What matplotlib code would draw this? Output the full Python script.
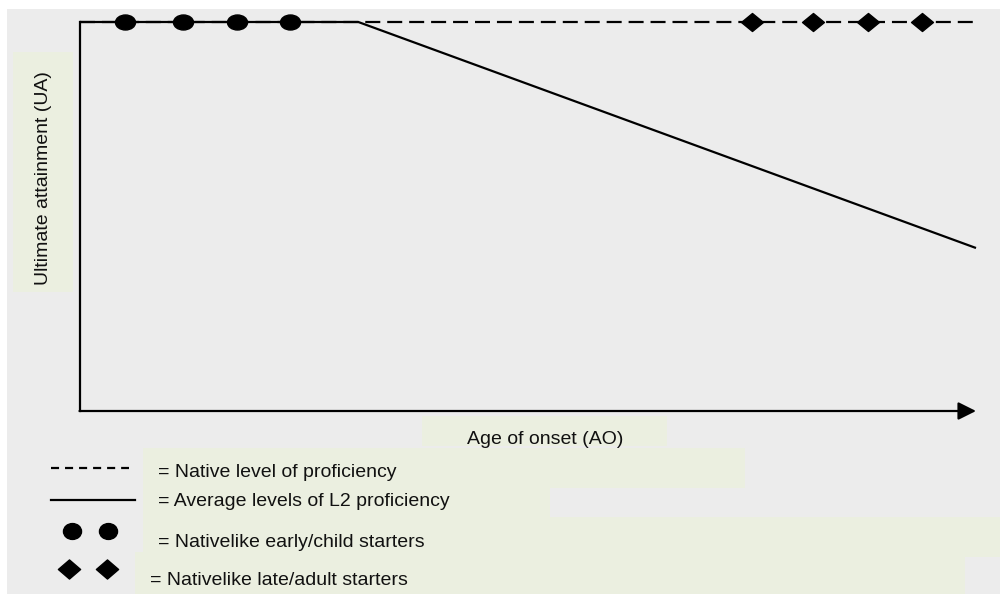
import matplotlib
matplotlib.use("Agg")
import matplotlib.pyplot as plt
from matplotlib import font_manager
from matplotlib.patches import Rectangle
from matplotlib.path import Path
from matplotlib.transforms import Affine2D
from matplotlib.lines import Line2D

# ---------------- data ----------------
native_x = [0, 100]
native_y = [100, 100]
avg_x = [0, 31.1, 100]
avg_y = [100, 100, 41.9]
early_x = [5.1, 11.5, 17.6, 23.5]
early_y = [100, 100, 100, 100]
late_x = [75.0, 81.8, 88.0, 94.0]
late_y = [100, 100, 100, 100]

xlabel = "Age of onset (AO)"
ylabel = "Ultimate attainment (UA)"
legend_labels = ["= Native level of proficiency",
                 "= Average levels of L2 proficiency",
                 "= Nativelike early/child starters",
                 "= Nativelike late/adult starters"]

# ---------------- style ----------------
plt.rcParams['lines.scale_dashes'] = False
names = {f.name for f in font_manager.fontManager.ttflist}
if 'Liberation Sans Narrow' in names:
    FAM, FS = ['Liberation Sans Narrow', 'DejaVu Sans'], 17
else:
    FAM, FS = ['Liberation Sans', 'DejaVu Sans'], 14

BG = '#ececec'
BOX = '#ebefe0'

W, H = 1000, 594
fig = plt.figure(figsize=(W / 100, H / 100), dpi=100, facecolor='white')

# overlay axes in pixel coordinates (layout only)
ov = fig.add_axes([0, 0, 1, 1], zorder=0)
ov.set_xlim(0, W)
ov.set_ylim(H, 0)
ov.axis('off')
ov.add_patch(Rectangle((7, 9), W - 7, H - 9, facecolor=BG, edgecolor='none'))

def box(x0, y0, x1, y1, color=BOX, visible=True):
    r = Rectangle((x0, y0), x1 - x0, y1 - y0, facecolor=color, edgecolor='none')
    if visible:
        ov.add_patch(r)
    else:
        r.set_transform(ov.transData)
    return r

box(13, 52, 73, 292)
box(422, 416, 667, 446)
box(143, 448, 745, 488)
box(143, 488, 550, 517)
box(143, 517, 1000, 557)
box(135, 552, 965, 594)

# axis labels
ov.text(44, 178, ylabel, rotation=90, ha='center', va='center',
        family=FAM, fontsize=FS, color='#111111')
t = ov.text(545, 444, xlabel, ha='center', va='baseline',
            family=FAM, fontsize=FS, color='#111111')
t.set_clip_path(box(400, 410, 700, 446, visible=False))

# legend texts
ys = [477, 506, 547, 585]
xs = [158, 158, 158, 150]
clips = [(440, 488), (486, 510), None, None]
for lab, x, y, c in zip(legend_labels, xs, ys, clips):
    tt = ov.text(x, y, lab, ha='left', va='baseline', family=FAM,
                 fontsize=FS, color='#111111')
    if c is not None:
        tt.set_clip_path(box(100, c[0], 1000, c[1], visible=False))

# markers
ell = Path.unit_circle().transformed(Affine2D().scale(1, 0.75))
ell_leg = Path.unit_circle().transformed(Affine2D().scale(1, 0.88))
dia = Path([(0, 1), (1, 0), (0, -1), (-1, 0), (0, 1)],
           [Path.MOVETO, Path.LINETO, Path.LINETO, Path.LINETO, Path.CLOSEPOLY]
           ).transformed(Affine2D().scale(1, 0.82))
dia_leg = Path([(0, 1), (1, 0), (0, -1), (-1, 0), (0, 1)],
               [Path.MOVETO, Path.LINETO, Path.LINETO, Path.LINETO, Path.CLOSEPOLY]
               ).transformed(Affine2D().scale(1, 0.86))

# legend keys (pixel layout)
ov.add_line(Line2D([51, 129], [468, 468], color='black', lw=1.6,
                   dashes=(5.8, 4.3)))
ov.add_line(Line2D([51, 135], [500, 500], color='black', lw=1.6))
ov.add_line(Line2D([72, 108], [531, 531], ls='none', marker=ell_leg,
                   markersize=13, color='black'))
ov.add_line(Line2D([69, 107], [569, 569], ls='none', marker=dia_leg,
                   markersize=16, color='black'))

# ---------------- main chart ----------------
left = 79.5 / W
right = 976 / W
bottom = (H - 411) / H
top = (H - 22) / H
ax = fig.add_axes([left, bottom, right - left, top - bottom], zorder=1)
ax.set_facecolor('none')
ax.set_xlim(0, 100)
ax.set_ylim(0, 100)
for s in ['top', 'right', 'bottom']:
    ax.spines[s].set_visible(False)
ax.spines['left'].set_linewidth(1.6)
ax.set_xticks([])
ax.set_yticks([])

ax.plot(native_x, native_y, color='black', lw=1.6, dashes=(10.8, 5.0),
        clip_on=False)
ax.plot(avg_x, avg_y, color='black', lw=1.6, clip_on=False,
        solid_capstyle='butt')
ax.plot(early_x, early_y, ls='none', marker=ell, markersize=14.4,
        color='black', clip_on=False, zorder=3)
ax.plot(late_x, late_y, ls='none', marker=dia, markersize=15.8,
        color='black', clip_on=False, zorder=3)

ax.annotate('', xy=(100, 0), xytext=(0, 0), xycoords='data',
            arrowprops=dict(arrowstyle='-|>,head_length=1.08,head_width=0.54',
                            lw=1.6, color='black', shrinkA=0, shrinkB=0),
            annotation_clip=False)

fig.savefig('out.png', dpi=100, facecolor='white')
